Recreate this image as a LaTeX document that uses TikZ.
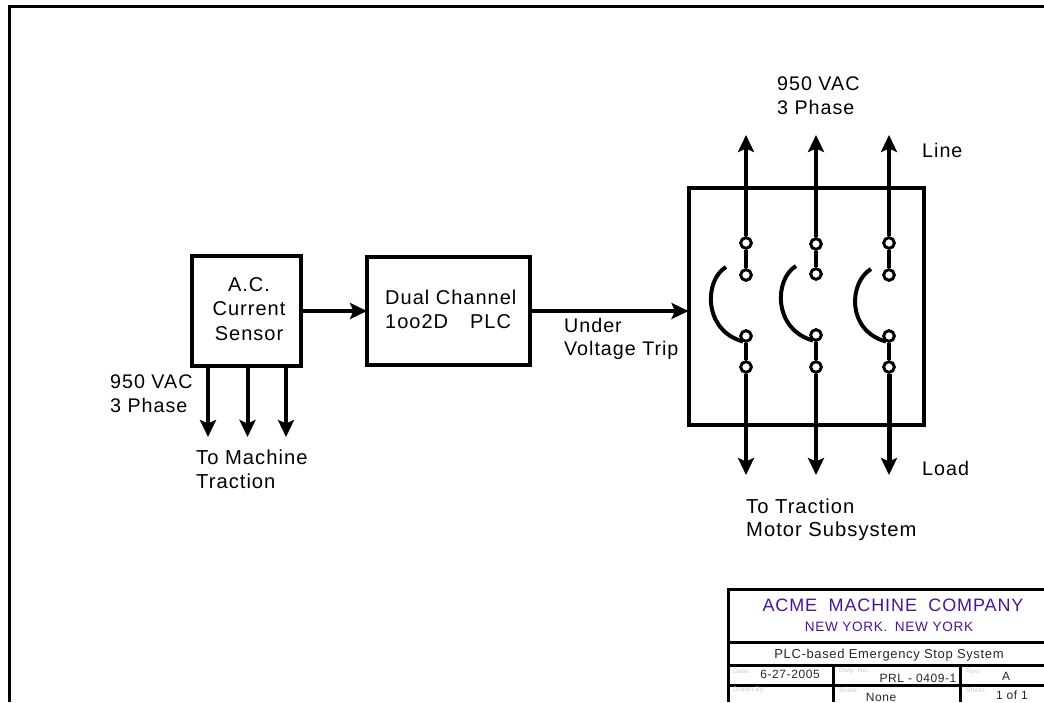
\documentclass[tikz,border=0pt]{standalone}
\usepackage{fontspec}
\setmainfont{Liberation Sans}[LetterSpace=5]
\usetikzlibrary{arrows.meta}
\definecolor{acme}{RGB}{75,20,150}
\tikzset{
  x=1pt,y=-1pt,
  blk/.style={draw=black,line width=4pt,minimum width=0pt,inner sep=0pt,rectangle},
  wire/.style={line width=4pt,draw=black},
  arw/.style={wire,-{Stealth[length=17pt,width=16pt,inset=3.5pt]}},
  term/.style={circle,draw=black,fill=white,line width=2.8pt,minimum size=10.5pt,inner sep=0pt},
  lab/.style={font=\fontsize{19.7}{24}\selectfont,align=left,anchor=west,inner sep=0pt,text=black},
  tb/.style={draw=black,line width=3pt},
  tiny/.style={font=\fontsize{6.5}{7}\selectfont,text=black!22,anchor=west,inner sep=0pt},
  tbt/.style={font=\fontsize{12}{14}\selectfont,inner sep=0pt,text=black!85}
}
\begin{document}
\begin{tikzpicture}
\useasboundingbox (0,0) rectangle (1044,702);
% frame
\coordinate (fa) at (9.5,702);
\coordinate (fb) at (9.5,6.5);
\coordinate (fc) at (1044,6.5);
\draw[line width=3pt,draw=black] (fa) -- (fb) -- (fc);
% blocks
\node[blk,minimum width=109pt,minimum height=110pt] (sensor) at (246.5,311) {};
\node[lab,anchor=center,align=center,font=\fontsize{20}{24.5}\selectfont] (sensortxt) at (249,309) {A.C.\\Current\\Sensor};
\node[blk,minimum width=163pt,minimum height=108pt] (plc) at (448.5,311) {};
\node[lab,font=\fontsize{20}{24}\selectfont] (plctxt1) at (385,297) {Dual Channel};
\node[lab,font=\fontsize{20}{24}\selectfont] (plctxt2) at (385,322) {1oo2D\hspace{22pt}PLC};
\node[blk,minimum width=235pt,minimum height=237pt] (brk) at (806,306.5) {};
\draw[arw,shorten >=-2pt] (sensor.east) -- (plc.west);
\draw[arw,shorten >=-2pt] (plc.east) -- (plc.east -| brk.west);
\node[lab] (uvt1) at (564,325.5) {Under};
\node[lab] (uvt2) at (564,350.5) {Voltage Trip};
% sensor outputs
\coordinate (s1) at (208,365);
\coordinate (s2) at (247.5,365);
\coordinate (s3) at (286,365);
\coordinate (e1) at (208,437);
\coordinate (e2) at (247.5,437);
\coordinate (e3) at (286,437);
\draw[arw] (s1) -- (e1);
\draw[arw] (s2) -- (e2);
\draw[arw] (s3) -- (e3);
\node[lab] (v1) at (110,382) {950 VAC};
\node[lab] (v2) at (110,405.5) {3 Phase};
\node[lab,font=\fontsize{20.2}{24}\selectfont] (m1) at (196,457) {To Machine};
\node[lab,font=\fontsize{20.2}{24}\selectfont] (m2) at (196,481) {Traction};
% switches
\foreach \n/\x/\ya/\yb/\yc/\yd/\ta/\tb/\wd in {a/746/243/275/336/367/726/267/4,b/816/244/274/335/367/796/266/4,c/889/243/275/336/367/871/269/5}{
  \coordinate (top\n) at (\x,135);
  \coordinate (bot\n) at (\x,475);
  \node[term] (t1\n) at (\x,\ya) {};
  \node[term] (t2\n) at (\x,\yb) {};
  \node[term] (t3\n) at (\x,\yc) {};
  \node[term] (t4\n) at (\x,\yd) {};
  \draw[arw] (t1\n) -- (top\n);
  \draw[wire] (t1\n) -- (t2\n);
  \draw[wire] (t3\n) -- (t4\n);
  \draw[arw,line width=\wd pt] (t4\n) -- (bot\n);
  \coordinate (arcs\n) at (\ta,\tb);
  \coordinate (arce\n) at (\x-3,\yc+5.5);
  \draw[wire] (arcs\n) .. controls ++(-22,13) and ++(-40,-11) .. (arce\n);
  \node[term] at (t1\n) {};
  \node[term] at (t2\n) {};
  \node[term] at (t3\n) {};
  \node[term] at (t4\n) {};
}
\node[lab] (vt1) at (777,84) {950 VAC};
\node[lab] (vt2) at (777,107.5) {3 Phase};
\node[lab] (line) at (922,150) {Line};
\node[lab] (load) at (922,468) {Load};
\node[lab,font=\fontsize{20.2}{24}\selectfont] (tr1) at (746,506) {To Traction};
\node[lab,font=\fontsize{20.2}{24}\selectfont] (tr2) at (746,531.5) {Motor Subsystem};
% title block
\coordinate (ba) at (728,702);
\coordinate (bb) at (728,589.5);
\coordinate (bc) at (1044,589.5);
\draw[tb] (ba) -- (bb) -- (bc);
\coordinate (l1a) at (728,642.5); \coordinate (l1b) at (1044,642.5);
\coordinate (l2a) at (728,665.5); \coordinate (l2b) at (1044,665.5);
\coordinate (l3a) at (728,685); \coordinate (l3b) at (1044,685);
\draw[tb] (l1a) -- (l1b);
\draw[tb] (l2a) -- (l2b);
\draw[tb] (l3a) -- (l3b);
\coordinate (v1a) at (833,665.5); \coordinate (v1b) at (833,702);
\coordinate (v2a) at (960,665.5); \coordinate (v2b) at (960,702);
\draw[tb] (v1a) -- (v1b);
\draw[tb] (v2a) -- (v2b);
\node[inner sep=0pt,text=acme,font=\fontsize{18}{20}\selectfont] (acme1) at (893,605.5) {ACME\hspace{5.5pt} MACHINE\hspace{5.5pt} COMPANY};
\node[inner sep=0pt,text=acme,font=\fontsize{13.6}{16}\selectfont] (acme2) at (889,626.5) {NEW YORK.\hspace{3pt} NEW YORK};
\node[tbt,font=\fontsize{13}{14}\selectfont] (ttl) at (889,655) {PLC-based Emergency Stop System};
\node[tbt] (date) at (790,674.5) {6-27-2005};
\node[tbt] (dwg) at (918,678) {PRL - 0409-1};
\node[tbt] (rev) at (1006,676) {A};
\node[tbt] (scale) at (881,697) {None};
\node[tbt] (sheet) at (1012,695) {1 of 1};
\node[tiny] (ld) at (733,671) {Date:};
\node[tiny] (ln) at (839,671) {Dwg. No:};
\node[tiny] (lr) at (966,671) {Rev:};
\node[tiny] (lb) at (733,690) {Drawn By:};
\node[tiny] (ls) at (839,690) {Scale:};
\node[tiny] (lh) at (966,690) {Sheet:};
\end{tikzpicture}
\end{document}
